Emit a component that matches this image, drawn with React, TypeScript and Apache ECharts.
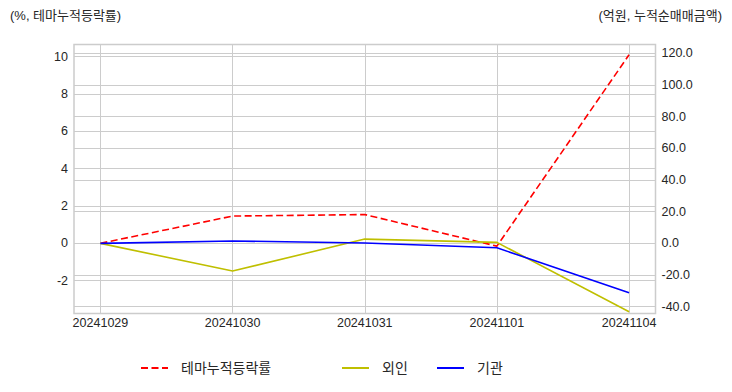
import React, { useEffect, useRef } from "react";
import * as echarts from "echarts";

const dates = ["20241029", "20241030", "20241031", "20241101", "20241104"];
const themeReturn = [0, 1.46, 1.54, -0.15, 10.1];
const foreign = [0, -17.5, 2.7, 0.6, -43.2];
const institution = [0, 1.5, 0.2, -2.8, -31.2];
const leftTicks = [-2, 0, 2, 4, 6, 8, 10];
const rightTicks = [-40, -20, 0, 20, 40, 60, 80, 100, 120];
const xTicks = dates.map((_, i) => i);

const FONT = "'Liberation Sans', 'Noto Sans CJK KR', sans-serif";
const TXT = "#262626";
const GRID = "#cccccc";

export default function App() {
  const ref = useRef<HTMLDivElement>(null);
  useEffect(() => {
    if (!ref.current) return;
    const chart = echarts.init(ref.current, undefined, { renderer: "svg" });
    const toPts = (arr: number[]) => arr.map((v, i) => [i, v]);
    const legendBase = {
      top: 356,
      padding: 5,
      itemWidth: 27,
      itemHeight: 14,
      itemStyle: { opacity: 0 },
      textStyle: { fontSize: 14, color: TXT, fontFamily: FONT, padding: [0, 0, 0, 8] },
    };
    chart.setOption({
      animation: false,
      backgroundColor: "#ffffff",
      textStyle: { fontFamily: FONT },
      title: [
        {
          text: "(%, 테마누적등락률)",
          left: 5,
          top: 4,
          textStyle: { fontSize: 13, fontWeight: "normal", color: TXT, fontFamily: FONT },
        },
        {
          text: "(억원, 누적순매매금액)",
          right: 5,
          top: 4,
          textStyle: { fontSize: 13, fontWeight: "normal", color: TXT, fontFamily: FONT },
        },
      ],
      grid: {
        left: 74,
        right: 76.5,
        top: 44.5,
        bottom: 78.5,
        show: true,
        borderColor: GRID,
        borderWidth: 1.5,
        backgroundColor: "transparent",
      },
      xAxis: {
        type: "value",
        min: -0.2,
        max: 4.2,
        axisLine: { show: false },
        axisTick: { show: false, customValues: xTicks },
        axisLabel: {
          customValues: xTicks,
          formatter: (v: number) => dates[Math.round(v)] ?? "",
          color: TXT,
          fontSize: 12.5,
          margin: 3,
          fontFamily: FONT,
        },
        splitLine: { show: true, lineStyle: { color: GRID, width: 1 } },
      },
      yAxis: [
        {
          type: "value",
          position: "left",
          min: -3.76,
          max: 10.65,
          axisLine: { show: false },
          axisTick: { show: false, customValues: leftTicks },
          axisLabel: {
            customValues: leftTicks,
            formatter: (v: number) => String(v),
            color: TXT,
            fontSize: 12.5,
            margin: 6,
            fontFamily: FONT,
          },
          splitLine: { show: true, lineStyle: { color: GRID, width: 1 } },
        },
        {
          type: "value",
          position: "right",
          min: -44.3,
          max: 125.6,
          axisLine: { show: false },
          axisTick: { show: false, customValues: rightTicks },
          axisLabel: {
            customValues: rightTicks,
            formatter: (v: number) => v.toFixed(1),
            color: TXT,
            fontSize: 12.5,
            margin: 6,
            fontFamily: FONT,
          },
          splitLine: { show: true, lineStyle: { color: GRID, width: 1 } },
        },
      ],
      legend: [
        { ...legendBase, data: ["테마누적등락률"], left: 135 },
        { ...legendBase, data: ["외인"], left: 336 },
        { ...legendBase, data: ["기관"], left: 431 },
      ],
      series: [
        {
          name: "테마누적등락률",
          type: "line",
          yAxisIndex: 0,
          data: toPts(themeReturn),
          symbol: "none",
          color: "#ff0000",
          lineStyle: { color: "#ff0000", width: 1.6, type: [7, 3.5] },
        },
        {
          name: "외인",
          type: "line",
          yAxisIndex: 1,
          data: toPts(foreign),
          symbol: "none",
          color: "#bfbf00",
          lineStyle: { color: "#bfbf00", width: 1.6 },
        },
        {
          name: "기관",
          type: "line",
          yAxisIndex: 1,
          data: toPts(institution),
          symbol: "none",
          color: "#0000ff",
          lineStyle: { color: "#0000ff", width: 1.6 },
        },
      ],
    });
    return () => chart.dispose();
  }, []);
  return <div ref={ref} style={{ width: 732, height: 392, margin: -8 }} />;
}
